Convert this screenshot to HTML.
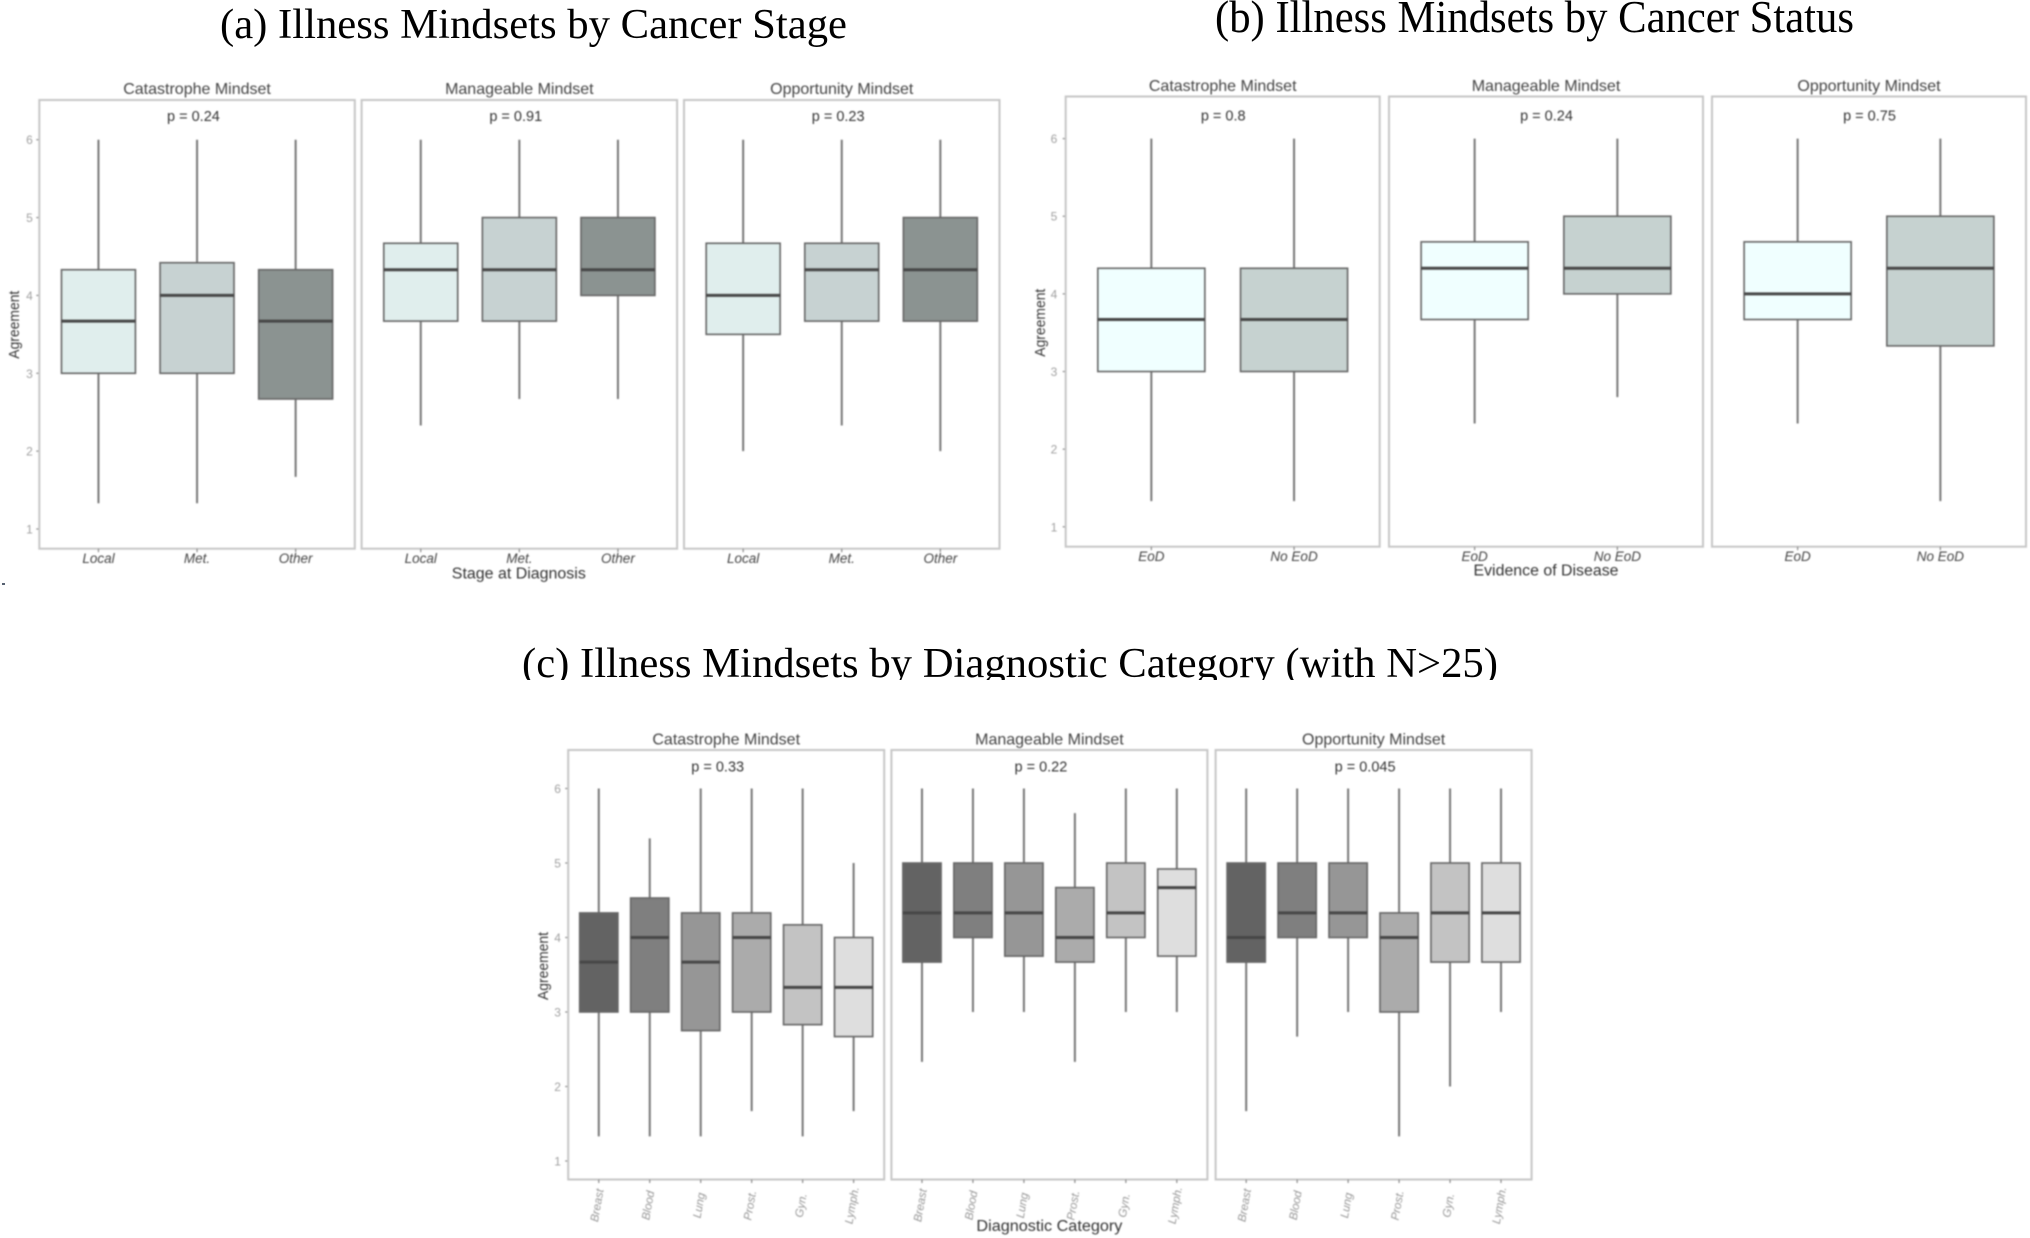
<!DOCTYPE html>
<html lang="en">
<head>
<meta charset="utf-8">
<title>Illness Mindsets Box Plots</title>
<style>
html,body{margin:0;padding:0;background:#fff;width:2030px;height:1238px;overflow:hidden}
svg{display:block}
text{font-family:"Liberation Sans",Arial,sans-serif}
.fig-title{font-family:"Liberation Serif","Times New Roman",serif;fill:#000}
.soft{filter:blur(0.7px)}
.title-soft{filter:blur(0.35px)}
</style>
</head>
<body>
<svg id="chart" xmlns="http://www.w3.org/2000/svg" width="2030" height="1238" viewBox="0 0 2030 1238">
  <rect x="0" y="0" width="2030" height="1238" fill="#ffffff"/>
  <defs>
    <clipPath id="clip-c"><rect x="500" y="630" width="1020" height="50"/></clipPath>
  </defs>
  <text class="fig-title title-soft" x="220" y="38" font-size="42" textLength="627" lengthAdjust="spacingAndGlyphs">(a) Illness Mindsets by Cancer Stage</text>
  <text class="fig-title title-soft" x="1215" y="32" font-size="46" textLength="639" lengthAdjust="spacingAndGlyphs">(b) Illness Mindsets by Cancer Status</text>
  <g clip-path="url(#clip-c)">
    <text class="fig-title title-soft" x="522" y="677" font-size="42" textLength="976" lengthAdjust="spacingAndGlyphs">(c) Illness Mindsets by Diagnostic Category (with N&gt;25)</text>
  </g>
  <rect x="2" y="583" width="3" height="2" fill="#556070"/>
  <g id="plots" class="soft"></g>
</svg>
<script>
// Each box is [whisker low, Q1, median, Q3, whisker high]
const facetNames = ['Catastrophe Mindset', 'Manageable Mindset', 'Opportunity Mindset'];
const yTicks = [1, 2, 3, 4, 5, 6];

const stageCategories = ['Local', 'Met.', 'Other'];
const stageCatastrophe = [[1.33, 3, 3.67, 4.33, 6], [1.33, 3, 4, 4.42, 6], [1.67, 2.67, 3.67, 4.33, 6]];
const stageManageable = [[2.33, 3.67, 4.33, 4.67, 6], [2.67, 3.67, 4.33, 5, 6], [2.67, 4, 4.33, 5, 6]];
const stageOpportunity = [[2, 3.5, 4, 4.67, 6], [2.33, 3.67, 4.33, 4.67, 6], [2, 3.67, 4.33, 5, 6]];
const stagePValues = ['p = 0.24', 'p = 0.91', 'p = 0.23'];

const statusCategories = ['EoD', 'No EoD'];
const statusCatastrophe = [[1.33, 3, 3.67, 4.33, 6], [1.33, 3, 3.67, 4.33, 6]];
const statusManageable = [[2.33, 3.67, 4.33, 4.67, 6], [2.67, 4, 4.33, 5, 6]];
const statusOpportunity = [[2.33, 3.67, 4, 4.67, 6], [1.33, 3.33, 4.33, 5, 6]];
const statusPValues = ['p = 0.8', 'p = 0.24', 'p = 0.75'];

const diagnosisCategories = ['Breast', 'Blood', 'Lung', 'Prost.', 'Gyn.', 'Lymph.'];
const diagnosisCatastrophe = [[1.33, 3, 3.67, 4.33, 6], [1.33, 3, 4, 4.53, 5.33], [1.33, 2.75, 3.67, 4.33, 6], [1.67, 3, 4, 4.33, 6], [1.33, 2.83, 3.33, 4.17, 6], [1.67, 2.67, 3.33, 4, 5]];
const diagnosisManageable = [[2.33, 3.67, 4.33, 5, 6], [3, 4, 4.33, 5, 6], [3, 3.75, 4.33, 5, 6], [2.33, 3.67, 4, 4.67, 5.67], [3, 4, 4.33, 5, 6], [3, 3.75, 4.67, 4.92, 6]];
const diagnosisOpportunity = [[1.67, 3.67, 4, 5, 6], [2.67, 4, 4.33, 5, 6], [3, 4, 4.33, 5, 6], [1.33, 3, 4, 4.33, 6], [2, 3.67, 4.33, 5, 6], [3, 3.67, 4.33, 5, 6]];
const diagnosisPValues = ['p = 0.33', 'p = 0.22', 'p = 0.045'];

const stageFills = ['#e0eeed', '#c7d2d2', '#8b9391'];
const statusFills = ['#f0ffff', '#c6d2d0'];
const diagnosisFills = ['#636363', '#7f7f7f', '#969696', '#ababab', '#c3c3c3', '#dedede'];

const figures = [
  {
    key: 'stage', categories: stageCategories, series: [stageCatastrophe, stageManageable, stageOpportunity],
    pValues: stagePValues, fills: stageFills, xTitle: 'Stage at Diagnosis',
    panelLefts: [39.3, 361.6, 684], panelWidth: 315.5, top: 100, bottom: 548.7, y6: 139.7, y1: 529,
    facetY: 93.8, pY: 121, pOffset: -3.6, tickLabelX: 29.5, yTitleX: 19, yTitleY: 324.7,
    xLabelY: 563, xTitleX: 518.8, xTitleY: 578.5, xTitleLen: 134, rotated: false
  },
  {
    key: 'status', categories: statusCategories, series: [statusCatastrophe, statusManageable, statusOpportunity],
    pValues: statusPValues, fills: statusFills, xTitle: 'Evidence of Disease',
    panelLefts: [1065.7, 1389, 1712], panelWidth: 314, top: 96.5, bottom: 546.7, y6: 138.6, y1: 526.8,
    facetY: 91, pY: 120.6, pOffset: 0.5, tickLabelX: 1054, yTitleX: 1045, yTitleY: 322.7,
    xLabelY: 561, xTitleX: 1546, xTitleY: 575.4, xTitleLen: 145, rotated: false
  },
  {
    key: 'diagnosis', categories: diagnosisCategories, series: [diagnosisCatastrophe, diagnosisManageable, diagnosisOpportunity],
    pValues: diagnosisPValues, fills: diagnosisFills, xTitle: 'Diagnostic Category',
    panelLefts: [568.2, 891.4, 1215.6], panelWidth: 316, top: 750, bottom: 1179.5, y6: 788.5, y1: 1161,
    facetY: 744.5, pY: 771.5, pOffset: -8.5, tickLabelX: 557.6, yTitleX: 548, yTitleY: 966,
    xLabelY: 1206, xTitleX: 1049.4, xTitleY: 1231, xTitleLen: 146, rotated: true
  }
];

const NS = 'http://www.w3.org/2000/svg';
const root = document.getElementById('plots');

function make(parent, tag, props, label) {
  const el = document.createElementNS(NS, tag);
  Object.keys(props).forEach(function (k) { el.setAttribute(k, props[k]); });
  if (label !== undefined) { el.textContent = label; }
  parent.appendChild(el);
  return el;
}

function yScale(fig, value) {
  return fig.y1 + (value - 1) * (fig.y6 - fig.y1) / 5;
}

function xScale(fig, panel, index) {
  return fig.panelLefts[panel] + (index + 0.6) / (fig.categories.length + 0.2) * fig.panelWidth;
}

function bandWidth(fig) {
  return 0.75 * fig.panelWidth / (fig.categories.length + 0.2);
}

figures.forEach(function (fig) {
  const figGroup = make(root, 'g', {});
  
  

  yTicks.forEach(function (t) {
    const y = yScale(fig, t);
    const lab = make(figGroup, 'text', { x: fig.tickLabelX, y: y + 4.5, 'font-size': 12, fill: '#a0a0a0', 'text-anchor': 'middle' }, String(t));
    
    
    const tick = make(figGroup, 'line', { x1: fig.panelLefts[0] - 3, x2: fig.panelLefts[0], y1: y, y2: y, stroke: '#8a8a8a', 'stroke-width': 1.2 });
    
    
  });

  const yTitle = make(figGroup, 'text', {
    x: fig.yTitleX, y: fig.yTitleY, 'font-size': 15, fill: '#333', 'text-anchor': 'middle',
    textLength: 68, lengthAdjust: 'spacingAndGlyphs',
    transform: 'rotate(-90 ' + fig.yTitleX + ' ' + fig.yTitleY + ')'
  }, 'Agreement');
  
  

  const xTitle = make(figGroup, 'text', {
    x: fig.xTitleX, y: fig.xTitleY, 'font-size': 15.5, fill: '#333', 'text-anchor': 'middle',
    textLength: fig.xTitleLen, lengthAdjust: 'spacingAndGlyphs'
  }, fig.xTitle);
  
  

  fig.series.forEach(function (boxes, p) {
    const left = fig.panelLefts[p];
    const panelGroup = make(figGroup, 'g', {});
    
    

    const frame = make(panelGroup, 'rect', { x: left, y: fig.top, width: fig.panelWidth, height: fig.bottom - fig.top, fill: '#fff', stroke: '#c6c6c6', 'stroke-width': 2 });
    
    

    const facet = make(panelGroup, 'text', { x: left + fig.panelWidth / 2, y: fig.facetY, 'font-size': 16, fill: '#444', 'text-anchor': 'middle' }, facetNames[p]);
    
    

    const pv = make(panelGroup, 'text', { x: left + fig.panelWidth / 2 + fig.pOffset, y: fig.pY, 'font-size': 14.5, fill: '#333', 'text-anchor': 'middle' }, fig.pValues[p]);
    
    

    boxes.forEach(function (b, i) {
      const cx = xScale(fig, p, i);
      const w = bandWidth(fig);
      const boxGroup = make(panelGroup, 'g', {});
      
      

      const whisker = make(boxGroup, 'line', { x1: cx, x2: cx, y1: yScale(fig, b[0]), y2: yScale(fig, b[4]), stroke: '#777', 'stroke-width': 2 });
      
      

      const rect = make(boxGroup, 'rect', { x: cx - w / 2, y: yScale(fig, b[3]), width: w, height: yScale(fig, b[1]) - yScale(fig, b[3]), fill: fig.fills[i], stroke: '#666', 'stroke-width': 1.6 });
      
      

      const median = make(boxGroup, 'line', { x1: cx - w / 2, x2: cx + w / 2, y1: yScale(fig, b[2]), y2: yScale(fig, b[2]), stroke: '#474747', 'stroke-width': 3 });
      
      

      const xTick = make(boxGroup, 'line', { x1: cx, x2: cx, y1: fig.bottom, y2: fig.bottom + 3.5, stroke: '#8a8a8a', 'stroke-width': 1.2 });
      
      

      let catLabel;
      if (fig.rotated) {
        const lx = cx + 2;
        catLabel = make(boxGroup, 'text', {
          x: lx, y: fig.xLabelY, 'font-size': 11.5, 'font-style': 'italic', fill: '#969696', 'text-anchor': 'middle',
          transform: 'rotate(-80 ' + lx + ' ' + fig.xLabelY + ')'
        }, fig.categories[i]);
      } else {
        catLabel = make(boxGroup, 'text', { x: cx, y: fig.xLabelY, 'font-size': 13.5, 'font-style': 'italic', fill: '#444', 'text-anchor': 'middle' }, fig.categories[i]);
      }
      
      
    });
  });
});
</script>
</body>
</html>
